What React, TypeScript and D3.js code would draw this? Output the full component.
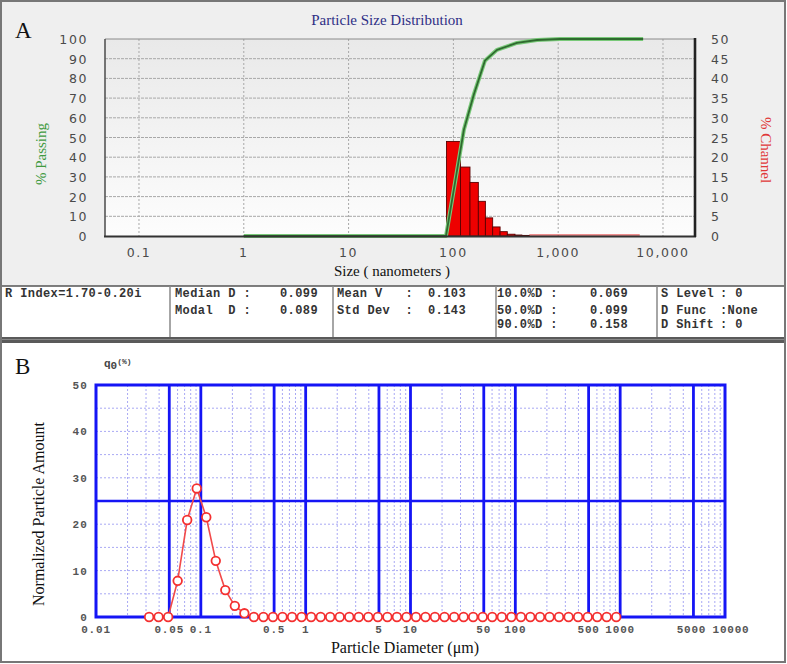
import React from 'react'
import * as d3 from 'd3'

// ---- panel A : cumulative % passing (size in nm)
const passSize = [1, 85, 103.5, 126, 157, 200, 261, 404, 628, 1040, 6460]
const passVal = [0, 0, 27, 54, 72, 89, 94.5, 98, 99.5, 100, 100]

// ---- panel A : % channel histogram (bin edges in nm)
const chanLo = [86, 117, 144, 173, 202, 237, 279, 327, 387, 450]
const chanHi = [117, 144, 173, 202, 237, 279, 327, 387, 450, 530]
const chanVal = [24.0, 17.5, 13.6, 8.8, 4.6, 2.3, 1.1, 0.45, 0.25, 0.15]
const chanTail = [530, 6000]

const aTicksX = [0.1, 1, 10, 100, 1000, 10000]
const aTicksLeft = [0, 10, 20, 30, 40, 50, 60, 70, 80, 90, 100]
const aTicksRight = [0, 5, 10, 15, 20, 25, 30, 35, 40, 45, 50]

// ---- stats table
const col1 = ['R Index=1.70-0.20i']
const col2Lab = ['Median D :', 'Modal  D :']
const col2Val = ['0.099', '0.089']
const col3Lab = ['Mean V   :', 'Std Dev  :']
const col3Val = ['0.103', '0.143']
const col4Lab = ['10.0%D :', '50.0%D :', '90.0%D :']
const col4Val = ['0.069', '0.099', '0.158']
const col5Lab = ['S Level', 'D Func', 'D Shift']
const col5Val = [': 0', ':None', ': 0']

// ---- panel B : q0 (%) vs particle diameter (um)
const bSize = [
  0.0321, 0.0395, 0.0488, 0.0601, 0.0741, 0.0914, 0.1127, 0.1388, 0.1711, 0.211,
  0.2602, 0.3208, 0.3955, 0.4876, 0.6012, 0.7413, 0.914, 1.127, 1.39, 1.713,
  2.112, 2.605, 3.21, 3.96, 4.88, 6.02, 7.42, 9.15, 11.28, 13.9,
  17.1, 21.1, 26.1, 32.1, 39.6, 48.8, 60.2, 74.3, 91.6, 113,
  139, 172, 212, 261, 322, 397, 490, 604, 744, 917,
]
const bVal = [
  0, 0, 0, 7.8, 20.9, 27.7, 21.5, 12.1, 5.8, 2.4,
  0.8, 0, 0, 0, 0, 0, 0, 0, 0, 0,
  0, 0, 0, 0, 0, 0, 0, 0, 0, 0,
  0, 0, 0, 0, 0, 0, 0, 0, 0, 0,
  0, 0, 0, 0, 0, 0, 0, 0, 0, 0,
]
const bTicksX = [0.01, 0.05, 0.1, 0.5, 1, 5, 10, 50, 100, 500, 1000, 5000, 10000]
const bTickLabels = ['0.01', '0.05', '0.1', '0.5', '1', '5', '10', '50', '100', '500', '1000', '5000', '10000']
const bTicksY = [0, 10, 20, 30, 40, 50]
const bDecades = [0.01, 0.1, 1, 10, 100, 1000]

export default function App() {
  // panel A scales
  const xA = d3.scaleLog().domain([0.0474, 20200]).range([105, 695])
  const yA = d3.scaleLinear().domain([0, 100]).range([236, 39])
  const yA2 = d3.scaleLinear().domain([0, 50]).range([236, 39])
  // panel B scales
  const xB = d3.scaleLog().domain([0.01, 10000]).range([96, 725])
  const yB = d3.scaleLinear().domain([0, 50]).range([617, 385])

  const passLine = d3
    .line<number>()
    .x((d, i) => xA(passSize[i]))
    .y(d => yA(d))(passVal) as string

  const bLine = d3
    .line<number>()
    .x((d, i) => xB(bSize[i]))
    .y(d => yB(d))(bVal) as string

  const mono = "'Liberation Mono', 'DejaVu Sans Mono', monospace"
  const serif = "'Liberation Serif', 'DejaVu Serif', serif"
  const tickFont = "'DejaVu Sans', Verdana, sans-serif"

  const minorB: number[] = []
  bDecades.forEach(d => {
    ;[2, 3, 4, 6, 7, 8, 9].forEach(m => minorB.push(d * m))
  })
  const majorB = bTicksX.filter(v => v > 0.01 && v < 10000)

  const rowY = [297, 314, 328]

  return (
    <svg
      width={787}
      height={664}
      style={{position: 'absolute', left: 0, top: 0}}
      xmlns="http://www.w3.org/2000/svg">
      <defs>
        <linearGradient id="plotBg" x1="0" x2="0" y1="0" y2="1">
          <stop offset="0%" stopColor="#e9e9e9" />
          <stop offset="100%" stopColor="#fdfdfd" />
        </linearGradient>
      </defs>
      {/* backgrounds */}
      <rect x={0} y={0} width={787} height={664} fill="#fff" />
      <rect x={1} y={1} width={784} height={285} fill="#efefef" />
      <rect x={1} y={286} width={784} height={51} fill="#fff" />
      <rect x={1} y={343} width={784} height={319} fill="#fff" />

      {/* ================= panel A ================= */}
      <text x={15} y={38} fontFamily={serif} fontSize={23} fill="#111">
        A
      </text>
      <text x={387} y={25} textAnchor="middle" fontFamily={serif} fontSize={15} fill="#2e2e85">
        Particle Size Distribution
      </text>
      <rect x={105} y={39} width={590} height={197} fill="url(#plotBg)" />
      {aTicksLeft
        .filter(v => v > 0 && v < 100)
        .map(v => (
          <line key={'ha' + v} x1={105} x2={695} y1={yA(v)} y2={yA(v)} stroke="#a8a8a8" strokeDasharray="3,1" />
        ))}
      {aTicksX.map(v => (
        <line key={'va' + v} x1={xA(v)} x2={xA(v)} y1={39} y2={236} stroke="#a8a8a8" strokeDasharray="2,2" />
      ))}
      <line x1={105} x2={695} y1={39} y2={39} stroke="#8a8a8a" />

      {/* channel bars */}
      {chanVal.map((v, i) => (
        <rect
          key={'bar' + i}
          x={xA(chanLo[i])}
          y={yA2(v)}
          width={xA(chanHi[i]) - xA(chanLo[i])}
          height={236 - yA2(v)}
          fill="#ee0000"
          stroke="#5a0000"
          strokeWidth={0.9}
        />
      ))}
      <line
        x1={xA(chanTail[0])}
        x2={xA(chanTail[1])}
        y1={yA2(0) - 1}
        y2={yA2(0) - 1}
        stroke="#e02020"
        strokeWidth={1}
      />
      {/* cumulative curve */}
      <path d={passLine} fill="none" stroke="#79c979" strokeWidth={4} strokeLinejoin="round" />
      <path d={passLine} fill="none" stroke="#2f6a2f" strokeWidth={1.8} strokeLinejoin="round" />

      {/* axes frame */}
      <line x1={105} x2={105} y1={39} y2={237} stroke="#555" strokeWidth={1.6} />
      <line x1={104} x2={696} y1={236.5} y2={236.5} stroke="#333" strokeWidth={2} />
      <line x1={695} x2={695} y1={38} y2={237} stroke="#222" strokeWidth={2.6} />

      {aTicksLeft.map(v => (
        <text
          key={'tl' + v}
          x={88}
          y={yA(v) + 5}
          textAnchor="end"
          fontFamily={tickFont}
          fontSize={12.5}
          letterSpacing={1.6}
          fill="#4a4a4a">
          {v}
        </text>
      ))}
      {aTicksRight.map(v => (
        <text
          key={'tr' + v}
          x={711}
          y={yA2(v) + 5}
          fontFamily={tickFont}
          fontSize={12.5}
          letterSpacing={1.6}
          fill="#4a4a4a">
          {v}
        </text>
      ))}
      {aTicksX.map(v => (
        <text
          key={'tx' + v}
          x={xA(v)}
          y={257}
          textAnchor="middle"
          fontFamily={tickFont}
          fontSize={12.5}
          letterSpacing={1.6}
          fill="#4a4a4a">
          {d3.format(',')(v)}
        </text>
      ))}
      <text x={392} y={276} textAnchor="middle" fontFamily={serif} fontSize={15} fill="#111">
        Size ( nanometers )
      </text>
      <text
        transform="translate(46,154) rotate(-90)"
        textAnchor="middle"
        fontFamily={serif}
        fontSize={15}
        fill="#3f9a3f">
        % Passing
      </text>
      <text
        transform="translate(761,150) rotate(90)"
        textAnchor="middle"
        fontFamily={serif}
        fontSize={15}
        fill="#e03838">
        % Channel
      </text>

      {/* ================= stats table ================= */}
      <line x1={1} x2={785} y1={286} y2={286} stroke="#555" strokeWidth={1.5} />
      {[170, 333, 496, 657].map(x => (
        <line key={'cd' + x} x1={x} x2={x} y1={286} y2={337} stroke="#888" strokeWidth={1.5} />
      ))}
      <rect x={1} y={337} width={784} height={6} fill="#5a5a5a" />
      <line x1={1} x2={785} y1={339.5} y2={339.5} stroke="#888" strokeWidth={1} />
      <g fontFamily={mono} fontSize={12} fontWeight="bold" letterSpacing={0.4} fill="#333" style={{whiteSpace: 'pre'}}>
        {col1.map((t, i) => (
          <text key={'c1' + i} x={5} y={rowY[i]}>
            {t}
          </text>
        ))}
        {col2Lab.map((t, i) => (
          <text key={'c2' + i} x={175} y={rowY[i]} xmlSpace="preserve">
            {t}
          </text>
        ))}
        {col2Val.map((t, i) => (
          <text key={'c2v' + i} x={280} y={rowY[i]}>
            {t}
          </text>
        ))}
        {col3Lab.map((t, i) => (
          <text key={'c3' + i} x={337} y={rowY[i]} xmlSpace="preserve">
            {t}
          </text>
        ))}
        {col3Val.map((t, i) => (
          <text key={'c3v' + i} x={428} y={rowY[i]}>
            {t}
          </text>
        ))}
        {col4Lab.map((t, i) => (
          <text key={'c4' + i} x={497} y={rowY[i]} xmlSpace="preserve">
            {t}
          </text>
        ))}
        {col4Val.map((t, i) => (
          <text key={'c4v' + i} x={590} y={rowY[i]}>
            {t}
          </text>
        ))}
        {col5Lab.map((t, i) => (
          <text key={'c5' + i} x={661} y={rowY[i]}>
            {t}
          </text>
        ))}
        {col5Val.map((t, i) => (
          <text key={'c5v' + i} x={720} y={rowY[i]}>
            {t}
          </text>
        ))}
      </g>

      {/* ================= panel B ================= */}
      <text x={15} y={374} fontFamily={serif} fontSize={23} fill="#111">
        B
      </text>
      <text x={104} y={367} fontFamily={mono} fontSize={11} fontWeight="bold" fill="#444">
        q
        <tspan dy={2} fontSize={11}>
          0
        </tspan>
        <tspan dy={-5} fontSize={8}>
          (%)
        </tspan>
      </text>
      {minorB.map((v, i) => (
        <line key={'mb' + i} x1={xB(v)} x2={xB(v)} y1={385} y2={617} stroke="#a9a9f4" strokeDasharray="2,2" />
      ))}
      {[5, 10, 15, 20, 30, 35, 40, 45].map(v => (
        <line key={'hb' + v} x1={96} x2={725} y1={yB(v)} y2={yB(v)} stroke="#a9a9f4" strokeDasharray="2,2" />
      ))}
      {majorB.map(v => (
        <line key={'Mb' + v} x1={xB(v)} x2={xB(v)} y1={385} y2={617} stroke="#1515f5" strokeWidth={2.8} />
      ))}
      <line x1={96} x2={725} y1={yB(25)} y2={yB(25)} stroke="#1515f5" strokeWidth={2.4} />
      <rect x={96} y={385} width={629} height={232} fill="none" stroke="#1515f5" strokeWidth={3} />

      <path d={bLine} fill="none" stroke="#f24a4a" strokeWidth={1.6} />
      {bVal.map((v, i) => (
        <circle key={'pt' + i} cx={xB(bSize[i])} cy={yB(v)} r={4.3} fill="#fff" stroke="#f43030" strokeWidth={1.8} />
      ))}

      {bTicksY.map(v => (
        <text
          key={'by' + v}
          x={88}
          y={yB(v) + 4}
          textAnchor="end"
          fontFamily={mono}
          fontSize={11}
          fontWeight="bold"
          letterSpacing={1.2}
          fill="#555">
          {v}
        </text>
      ))}
      {bTicksX.map((v, i) => (
        <text
          key={'bx' + v}
          x={xB(v) + (v === 10000 ? 6 : v === 5000 ? -2 : 0)}
          y={633}
          textAnchor="middle"
          fontFamily={mono}
          fontSize={11}
          fontWeight="bold"
          letterSpacing={0.8}
          fill="#555">
          {bTickLabels[i]}
        </text>
      ))}
      <text x={405} y={653} textAnchor="middle" fontFamily={serif} fontSize={16} fill="#111">
        Particle Diameter (μm)
      </text>
      <text
        transform="translate(44,514) rotate(-90)"
        textAnchor="middle"
        fontFamily={serif}
        fontSize={16}
        fill="#111">
        Normalized Particle Amount
      </text>

      {/* outer border */}
      <rect x={1} y={1} width={784} height={661} fill="none" stroke="#777" strokeWidth={2} />
    </svg>
  )
}
